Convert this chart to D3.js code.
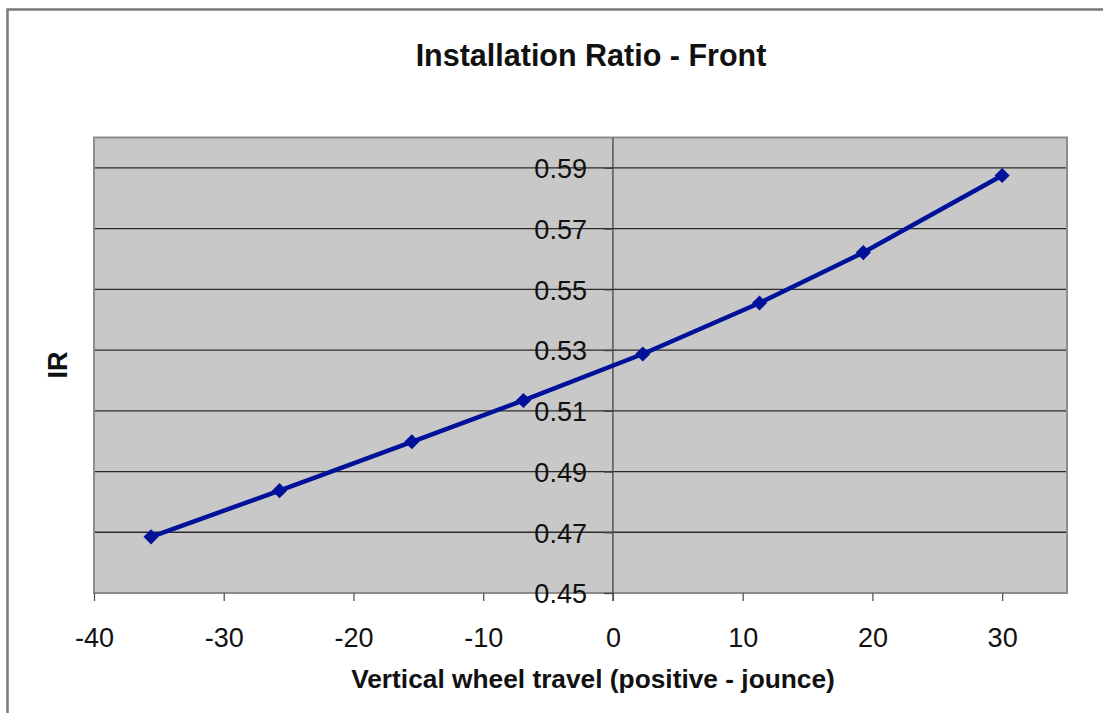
<!DOCTYPE html>
<html><head><meta charset="utf-8">
<script src="https://cdn.jsdelivr.net/npm/d3@7"></script>
<style>html,body{margin:0;padding:0;background:#fff;overflow:hidden;}svg{display:block;font-family:"Liberation Sans",Arial,sans-serif;}</style>
</head><body>
<svg id="c" width="1103" height="713"></svg>
<script>
const travel = [-35.6, -25.7, -15.5, -6.9, 2.3, 11.3, 19.3, 30.0];
const ratio  = [0.4685, 0.4837, 0.4998, 0.5134, 0.5287, 0.5455, 0.5621, 0.5875];
const xTicks = [-40, -30, -20, -10, 0, 10, 20, 30];
const yTicks = [0.45, 0.47, 0.49, 0.51, 0.53, 0.55, 0.57, 0.59];
const title = "Installation Ratio - Front";
const xLabel = "Vertical wheel travel (positive - jounce)";
const yLabel = "IR";

const svg = d3.select("#c");
const L = 94, R = 1067, T = 137.5, B = 593;
const x = d3.scaleLinear().domain([-40, 35]).range([L, R]);
const y = d3.scaleLinear().domain([0.45, 0.60]).range([B, T]);

// outer border (right and bottom edges fall outside the picture)
svg.append("path").attr("d", "M7.5,760 V9.5 H1103")
  .attr("fill", "none").attr("stroke", "#7a7a7a").attr("stroke-width", 2.5);

// plot area
svg.append("rect").attr("x", L).attr("y", T).attr("width", R - L).attr("height", B - T)
  .attr("fill", "#c8c8c8").attr("stroke", "#8c8c8c").attr("stroke-width", 2);

// gridlines
svg.append("g").selectAll("line").data(yTicks.filter(d => d > 0.45)).join("line")
  .attr("x1", L + 1).attr("x2", R - 1).attr("y1", d => y(d)).attr("y2", d => y(d))
  .attr("stroke", "#2a2a2a").attr("stroke-width", 1.3);

// y axis at x = 0
const yAxis = d3.axisLeft(y).tickValues(yTicks).tickSize(9).tickPadding(17)
  .tickFormat(d3.format(".2f"));
const gy = svg.append("g").attr("transform", `translate(${x(0)},0)`).call(yAxis);
gy.select(".domain").remove();
gy.append("line").attr("x1", 0).attr("x2", 0).attr("y1", T).attr("y2", B + 8)
  .attr("stroke", "#444").attr("stroke-width", 1.3);
gy.selectAll(".tick line").attr("stroke", "#444").attr("stroke-width", 1.3);
gy.selectAll(".tick text").attr("font-size", 27).attr("fill", "#111")
  .attr("font-family", "'Liberation Sans',Arial,sans-serif").attr("dy", "0.36em");

// x axis at bottom
const xAxis = d3.axisBottom(x).tickValues(xTicks).tickSize(8).tickPadding(27)
  .tickFormat(d => String(d));
const gx = svg.append("g").attr("transform", `translate(0,${B})`).call(xAxis);
gx.select(".domain").remove();
gx.selectAll(".tick line").attr("stroke", "#555").attr("stroke-width", 1.3);
gx.selectAll(".tick text").attr("font-size", 27).attr("fill", "#111")
  .attr("font-family", "'Liberation Sans',Arial,sans-serif").attr("dy", "0.72em");

// line
const pts = travel.map((t, i) => [t, ratio[i]]);
svg.append("path").datum(pts)
  .attr("d", d3.line().x(d => x(d[0])).y(d => y(d[1])))
  .attr("fill", "none").attr("stroke", "#00129a").attr("stroke-width", 4.5);

// markers
const sym = d3.symbol().type(d3.symbolSquare).size(115);
svg.append("g").selectAll("path").data(pts).join("path")
  .attr("d", sym)
  .attr("transform", d => `translate(${x(d[0])},${y(d[1])}) rotate(45)`)
  .attr("fill", "#00129a");

// titles
svg.append("text").attr("x", 591).attr("y", 66).attr("text-anchor", "middle")
  .attr("font-size", 30.5).attr("font-weight", "bold").attr("fill", "#111").text(title);
svg.append("text").attr("x", 593).attr("y", 688).attr("text-anchor", "middle")
  .attr("font-size", 26.3).attr("font-weight", "bold").attr("fill", "#111").text(xLabel);
svg.append("text").attr("transform", "translate(67,365) rotate(-90)").attr("text-anchor", "middle")
  .attr("font-size", 27).attr("font-weight", "bold").attr("fill", "#111").text(yLabel);
</script>
</body></html>
